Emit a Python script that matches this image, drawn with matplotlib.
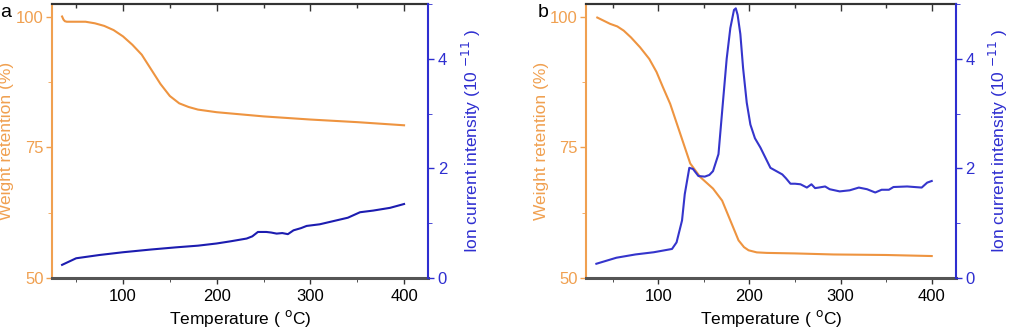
import matplotlib
matplotlib.use("Agg")
import matplotlib.pyplot as plt
from matplotlib.ticker import MultipleLocator

plt.rcParams['font.family'] = ['Liberation Sans', 'DejaVu Sans']

# Panel a data
a_w_T = [35, 36.5, 38, 40, 50, 60, 70, 80, 90, 100, 110, 120, 130, 140, 150, 160, 170, 180, 200, 250, 300, 350, 400]
a_w_W = [100, 99.4, 99.1, 99.0, 99.0, 99.0, 98.7, 98.2, 97.4, 96.2, 94.6, 92.7, 89.9, 87.1, 84.8, 83.4, 82.7, 82.2, 81.7, 80.9, 80.3, 79.8, 79.2]
a_i_T = [35, 50, 75, 100, 130, 157, 180, 200, 215, 232, 238, 244, 253, 258, 264, 270, 276, 282, 290, 296, 310, 325, 340, 353, 367, 385, 400]
a_i_I = [0.24, 0.36, 0.42, 0.47, 0.52, 0.56, 0.59, 0.63, 0.67, 0.72, 0.76, 0.84, 0.84, 0.83, 0.81, 0.82, 0.80, 0.87, 0.91, 0.95, 0.98, 1.04, 1.10, 1.20, 1.23, 1.28, 1.35]

# Panel b data
b_w_T = [33, 40, 47, 55, 62, 70, 80, 90, 98, 105, 113, 124, 135, 146, 153, 160, 170, 179, 188, 194, 199, 208, 219, 250, 292, 350, 400]
b_w_W = [99.8, 99.2, 98.6, 98.1, 97.3, 96.0, 94.1, 91.9, 89.4, 86.5, 83.3, 77.6, 71.9, 69.3, 68.2, 67.1, 64.8, 61.0, 57.2, 55.9, 55.3, 54.9, 54.8, 54.7, 54.5, 54.4, 54.2]
b_i_T = [32, 54, 75, 95, 115, 120, 126, 129, 134, 138, 144, 151, 156, 160, 166, 171, 175, 179, 183, 185, 187, 190, 193, 197, 201, 206, 212, 223, 236, 240, 245, 250, 256, 263, 268, 272, 276, 283, 288, 299, 310, 320, 329, 338, 345, 353, 358, 373, 389, 395, 400]
b_i_I = [0.26, 0.37, 0.43, 0.47, 0.53, 0.65, 1.05, 1.53, 2.01, 1.99, 1.86, 1.85, 1.88, 1.95, 2.26, 3.23, 4.00, 4.56, 4.89, 4.92, 4.80, 4.45, 3.83, 3.20, 2.80, 2.55, 2.38, 2.01, 1.89, 1.82, 1.72, 1.72, 1.71, 1.65, 1.71, 1.64, 1.65, 1.67, 1.62, 1.58, 1.60, 1.65, 1.62, 1.56, 1.61, 1.61, 1.66, 1.67, 1.65, 1.74, 1.77]

x_ticks = [100, 200, 300, 400]
w_ticks = [50, 75, 100]
i_ticks = [0, 2, 4]

ORANGE = '#F0A050'
ORANGE_LINE = '#EE9440'
BLUE = '#2E2ED0'
FS_TICK = 12
FS_LABEL = 12.5

fig = plt.figure(figsize=(10.11, 3.29), dpi=100)

def panel(rect, xlim, wT, wW, iT, iI, letter, blue_line, letter_x):
    ax = fig.add_axes(rect)
    ax.plot(wT, wW, color=ORANGE_LINE, lw=1.5)
    ax.set_xlim(*xlim)
    ax.set_ylim(50, 102.4)
    ax.set_xticks(x_ticks)
    ax.xaxis.set_minor_locator(MultipleLocator(50))
    ax.set_yticks(w_ticks)
    ax.yaxis.set_minor_locator(MultipleLocator(12.5))
    ax.tick_params(axis='y', colors=ORANGE, labelsize=FS_TICK, direction='out', length=4, width=1, pad=2)
    ax.tick_params(axis='y', which='minor', colors=ORANGE, direction='out', length=3)
    ax.tick_params(axis='x', direction='out', length=4, width=1, labelsize=FS_TICK, color='#333333', pad=4)
    ax.tick_params(axis='x', which='minor', direction='out', length=3, color='#333333')
    ax.spines['left'].set_color(ORANGE)
    ax.spines['left'].set_linewidth(1.5)
    ax.spines['bottom'].set_color('#555555')
    ax.spines['bottom'].set_linewidth(2.2)
    ax.spines['top'].set_color('#333333')
    ax.spines['top'].set_linewidth(1.5)
    ax.spines['right'].set_visible(False)
    ax.set_ylabel('Weight retention (%)', color=ORANGE, fontsize=FS_LABEL, labelpad=1)
    ax.set_xlabel('Temperature ( $^{\\rm o}$C)', fontsize=FS_LABEL, labelpad=3)
    # top axis with inward ticks, no labels
    top = ax.secondary_xaxis('top')
    top.set_xticks(x_ticks)
    top.xaxis.set_minor_locator(MultipleLocator(50))
    top.tick_params(axis='x', which='major', direction='in', length=5, width=1, labeltop=False, color='#333333')
    top.tick_params(axis='x', which='minor', direction='in', length=3, width=1, labeltop=False, color='#333333')
    top.spines['top'].set_color('#333333')
    top.spines['top'].set_linewidth(1.5)
    ax2 = ax.twinx()
    ax2.plot(iT, iI, color=blue_line, lw=1.5)
    ax2.set_ylim(0, 5.0)
    ax2.set_yticks(i_ticks)
    ax2.yaxis.set_minor_locator(MultipleLocator(1))
    ax2.tick_params(axis='y', colors=BLUE, labelsize=FS_TICK, direction='out', length=4, width=1, pad=3)
    ax2.tick_params(axis='y', which='minor', colors=BLUE, direction='out', length=3)
    ax2.spines['right'].set_color(BLUE)
    ax2.spines['right'].set_linewidth(1.5)
    for s in ['left', 'top', 'bottom']:
        ax2.spines[s].set_visible(False)
    ax2.set_ylabel('Ion current intensity (10 $^{-11}$ )', color=BLUE, fontsize=FS_LABEL, labelpad=9)
    fig.text(letter_x, 0.988, letter, fontsize=14, va='top', ha='left')
    return ax, ax2

panel([0.0514, 0.155, 0.372, 0.833], (24.2, 425.6), a_w_T, a_w_W, a_i_T, a_i_I, 'a', '#1C1CB0', 0.0)
panel([0.5796, 0.155, 0.3657, 0.833], (20.6, 426.3), b_w_T, b_w_W, b_i_T, b_i_I, 'b', '#3535CC', 0.532)

fig.savefig('out.png', dpi=100)
